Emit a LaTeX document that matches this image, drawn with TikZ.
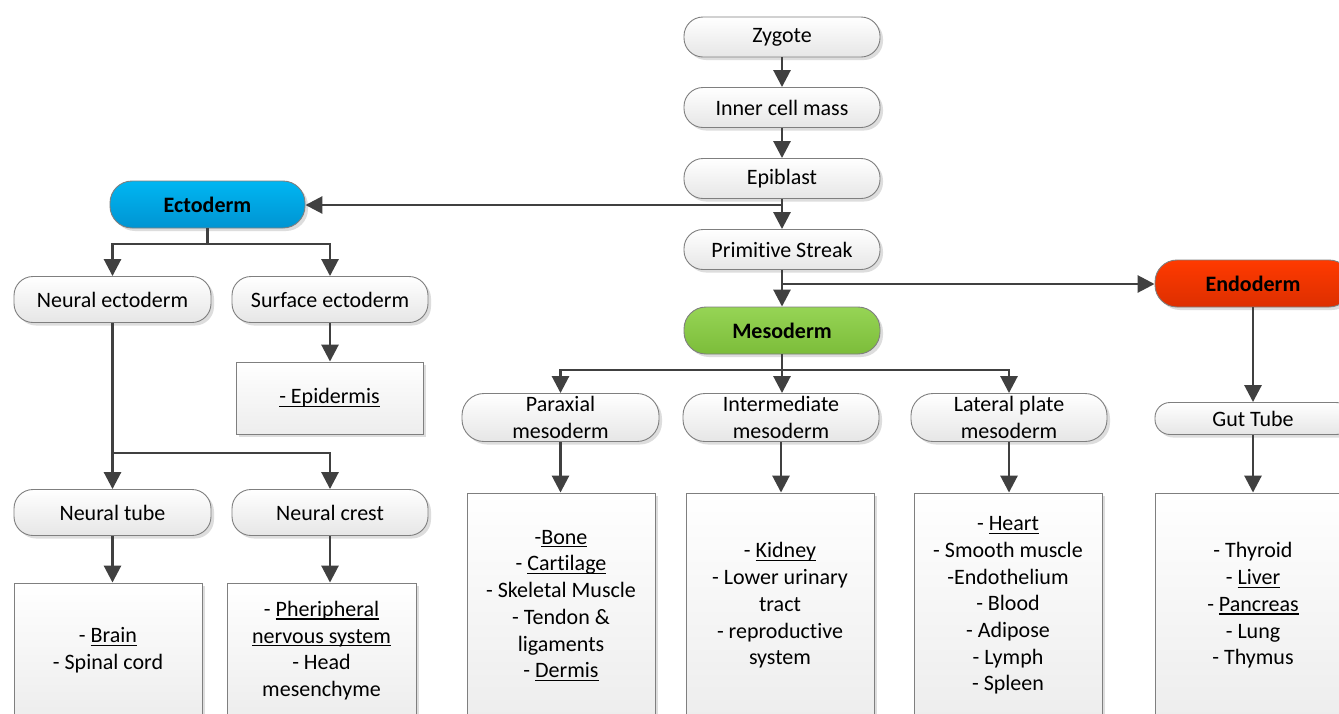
\documentclass[tikz,border=0pt]{standalone}
\usepackage{fontspec}
\setmainfont[Ligatures={CommonOff}]{Carlito}
\usetikzlibrary{arrows.meta,shadows,calc}
\definecolor{arrowc}{HTML}{404040}
\definecolor{bordc}{HTML}{7F7F7F}
\definecolor{pillbot}{HTML}{E6E6E6}
\definecolor{boxbot}{HTML}{EDEDED}
\definecolor{ectotop}{HTML}{00B6F2}
\definecolor{ectobot}{HTML}{0094D2}
\definecolor{mesotop}{HTML}{96D455}
\definecolor{mesobot}{HTML}{7CBD3A}
\definecolor{endotop}{HTML}{FF3A00}
\definecolor{endobot}{HTML}{DD2F00}
\newcommand{\uln}[1]{\setbox0\hbox{#1}\rlap{\rule[-3.2pt]{\wd0}{1.3pt}}\box0}
\begin{document}
\begin{tikzpicture}[x=1pt,y=-1pt,
  txt/.style={font=\fontsize{22}{26.7}\selectfont, align=center, text=black},
  shad/.style={drop shadow={shadow xshift=3pt,shadow yshift=-3pt,opacity=0.22,fill=black!60}},
  pill/.style={txt, shad, draw=bordc, line width=0.9pt, rounded corners=19pt,
    minimum width=196pt, minimum height=40pt, inner sep=0pt,
    top color=white, bottom color=pillbot},
  colpill/.style={pill, minimum height=47pt, rounded corners=22pt,
    font=\fontsize{22}{26.7}\selectfont\bfseries},
  cbox/.style={txt, shad, draw=bordc, line width=0.9pt, minimum width=188pt,
    inner sep=0pt, top color=white, bottom color=boxbot},
  conn/.style={draw=arrowc, line width=2.8pt},
  arr/.style={conn, -{Triangle[length=17pt,width=17pt]}}
]
\path[use as bounding box, clip] (0,0) rectangle (1339,713);
\fill[white] (0,0) rectangle (1339,713);

% central column
\node[pill] (zyg) at (782,37) {Zygote};
\node[pill] (icm) at (782,107.5) {Inner cell mass};
\node[pill] (epi) at (782,178.5) {Epiblast};
\node[pill] (ps) at (782,249.5) {Primitive Streak};
\node[colpill, top color=mesotop, bottom color=mesobot] (meso) at (782,330.5) {Mesoderm};

% germ layers
\node[colpill, minimum width=195pt, top color=ectotop, bottom color=ectobot] (ecto) at (207.5,204.5) {Ectoderm};
\node[colpill, top color=endotop, bottom color=endobot] (endo) at (1253,283.5) {Endoderm};

% ectoderm branch
\node[pill, minimum height=46pt, minimum width=197pt] (ne) at (112.5,299.5) {Neural ectoderm};
\node[pill, minimum height=46pt] (se) at (330,299.5) {Surface ectoderm};
\node[cbox, minimum width=187pt, minimum height=72pt] (epid) at (329.5,398) {\uln{- Epidermis}};
\node[pill, minimum height=46pt, minimum width=197pt] (nt) at (112.5,512.5) {Neural tube};
\node[pill, minimum height=46pt] (nc) at (330,512.5) {Neural crest};
\node[cbox, minimum height=135pt] (brain) at (108,650.5) {- \uln{Brain}\\- Spinal cord};
\node[cbox, minimum width=189pt, minimum height=135pt] (pns) at (321.5,650.5)
  {- \uln{Pheripheral}\\\uln{nervous system}\\- Head\\mesenchyme};

% mesoderm branch
\node[pill, minimum height=48pt, minimum width=197pt, rounded corners=22pt] (par) at (560.5,417.5) {Paraxial\\mesoderm};
\node[pill, minimum height=48pt, rounded corners=22pt] (inter) at (781,417.5) {Intermediate\\mesoderm};
\node[pill, minimum height=48pt, rounded corners=22pt] (lat) at (1009,417.5) {Lateral plate\\mesoderm};
\node[cbox, minimum height=225pt] (parbox) at (561,605.5)
  {-\uln{Bone}\\- \uln{Cartilage}\\- Skeletal Muscle\\- Tendon \&\\ligaments\\- \uln{Dermis}};
\node[cbox, minimum height=225pt] (interbox) at (780,605.5)
  {- \uln{Kidney}\\- Lower urinary\\tract\\- reproductive\\system};
\node[cbox, minimum height=225pt] (latbox) at (1008,605.5)
  {- \uln{Heart}\\- Smooth muscle\\-Endothelium\\- Blood\\- Adipose\\- Lymph\\- Spleen};

% endoderm branch
\node[pill, minimum height=32pt, rounded corners=15pt] (gut) at (1253,418.5) {Gut Tube};
\node[cbox, minimum width=196pt, minimum height=225pt] (endobox) at (1253,605.5)
  {- Thyroid\\- \uln{Liver}\\- \uln{Pancreas}\\- Lung\\- Thymus};

% connectors: central column
\draw[arr] (zyg) -- (icm);
\draw[arr] (icm) -- (epi);
\draw[arr] (epi) -- (ps);
\coordinate (ej) at (782,205);
\draw[arr] (ej) -- (ej -| ecto.east);
\draw[arr] (ps) -- (meso);
\coordinate (pj) at (782,284);
\draw[arr] (pj) -- (pj -| endo.west);

% ectoderm connectors
\coordinate (eb) at (207.5,244);
\draw[conn] (ecto.south) -- (eb);
\draw[arr] (eb) -| (ne.north);
\draw[arr] (eb) -| (se.north);
\draw[arr] (se.south) -- (se.south |- epid.north);
\coordinate (nb) at (112.5,453);
\draw[conn] (ne.south) -- (nb);
\draw[arr] (nb) -- (nt.north);
\draw[arr] (nb) -| (nc.north);
\draw[arr] (nt.south) -- (nt.south |- brain.north);
\draw[arr] (nc.south) -- (nc.south |- pns.north);

% mesoderm connectors
\coordinate (mb) at (782,370);
\draw[conn] (meso.south) -- (mb);
\draw[arr] (mb) -| (par.north);
\draw[arr] (mb) -- (mb |- inter.north);
\draw[arr] (mb) -| (lat.north);
\draw[arr] (par.south) -- (par.south |- parbox.north);
\draw[arr] (inter.south) -- (inter.south |- interbox.north);
\draw[arr] (lat.south) -- (lat.south |- latbox.north);

% endoderm connectors
\draw[arr] (endo) -- (gut);
\draw[arr] (gut) -- (endobox);
\end{tikzpicture}
\end{document}
